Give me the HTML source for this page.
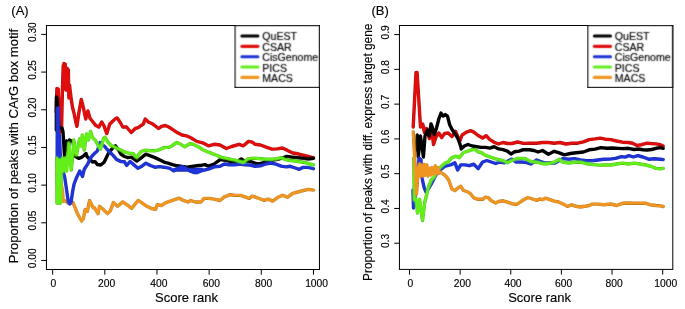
<!DOCTYPE html>
<html><head><meta charset="utf-8"><style>
html,body{margin:0;padding:0;background:#fff;}
svg{display:block;}
text{font-family:"Liberation Sans",sans-serif;fill:#000;stroke:#000;stroke-width:0.15px;}
</style></head><body>
<svg width="685" height="309" viewBox="0 0 685 309">
<defs><filter id="bl" filterUnits="userSpaceOnUse" x="0" y="0" width="685" height="309" color-interpolation-filters="sRGB"><feConvolveMatrix order="3" kernelMatrix="1 2 1 2 12 2 1 2 1" divisor="24" edgeMode="duplicate" preserveAlpha="true"/></filter></defs>
<rect width="685" height="309" fill="#fff"/>
<g filter="url(#bl)">
<text x="11.3" y="14.8" font-size="13">(A)</text>
<text x="371.5" y="14.8" font-size="13">(B)</text>
<clipPath id="cl"><rect x="46.45" y="25.55" width="273.0" height="243.95"/></clipPath>
<g clip-path="url(#cl)" fill="none" stroke-width="3.4" stroke-linejoin="round" stroke-linecap="round">
<polyline stroke="#f09620" points="57.5,150.0 58.8,165.0 61.0,182.0 62.6,192.0 63.2,201.5 65.5,201.0 68.5,203.0 73.0,202.6 75.4,208.4 77.1,213.0 81.6,221.0 83.4,218.5 85.1,209.6 87.3,211.4 89.6,200.7 93.2,207.8 94.4,207.7 98.0,213.6 99.5,206.3 103.1,209.2 107.5,213.6 110.4,210.7 113.4,202.6 117.7,206.3 122.8,201.9 128.0,205.5 131.6,208.5 134.5,204.8 138.2,200.4 142.6,203.4 146.9,206.3 151.3,208.5 155.7,209.2 157.2,204.8 161.5,205.5 165.9,202.6 170.3,201.2 174.7,199.7 179.1,198.2 183.4,200.4 187.9,202.0 190.8,200.5 195.2,202.0 201.1,202.0 204.0,198.4 208.4,198.4 214.2,199.1 220.0,200.5 224.4,196.9 230.3,194.7 234.6,195.4 240.5,195.4 244.9,196.9 249.2,198.4 252.2,196.2 253.9,196.6 259.1,198.5 264.2,200.4 268.1,199.1 272.7,201.1 277.2,197.8 282.4,195.3 287.6,197.2 292.7,193.3 297.9,192.0 303.1,190.7 308.3,189.4 313.5,190.1"/>
<polyline stroke="#e00d0d" points="56.2,112.0 56.9,88.5 58.3,89.0 59.3,110.0 60.5,132.0 61.5,130.0 62.3,95.0 63.2,66.0 64.0,63.5 65.2,64.0 65.9,90.0 66.6,74.0 67.3,68.5 68.3,70.0 68.9,98.0 69.5,85.0 70.3,92.0 71.3,99.5 72.6,108.0 74.0,113.0 75.2,119.0 76.9,126.3 79.0,112.0 81.3,99.4 83.5,108.1 85.7,119.0 87.9,111.0 90.0,118.3 93.0,122.0 95.9,125.6 98.8,127.1 101.7,122.0 103.9,125.6 106.8,133.6 109.7,124.2 112.6,121.2 116.0,118.3 117.2,118.0 119.9,121.9 122.8,127.0 126.5,127.0 131.2,132.5 135.3,128.5 138.2,127.7 141.1,125.5 143.3,124.1 145.2,119.0 148.4,121.9 152.8,124.1 158.6,128.5 161.5,126.3 165.2,125.5 168.8,127.0 173.2,129.9 177.6,132.8 182.0,135.0 186.4,135.8 190.8,137.7 196.7,141.4 202.5,142.8 208.4,145.8 214.2,144.3 220.0,145.0 226.3,148.5 231.7,146.5 239.0,144.3 243.4,145.8 248.5,141.4 252.2,142.1 255.2,144.3 260.4,145.0 265.5,146.9 272.0,149.1 277.2,148.9 282.4,148.0 287.6,150.4 292.7,153.0 297.9,153.8 303.1,155.2 308.3,156.5 313.5,157.8"/>
<polyline stroke="#000000" points="56.3,130.0 56.4,97.0 57.0,98.0 57.8,110.0 59.0,128.0 62.0,128.0 63.0,132.0 64.5,156.0 66.5,141.0 68.0,150.0 69.5,140.0 71.7,141.0 73.0,142.0 75.4,156.6 78.9,158.4 81.4,157.4 84.0,155.5 86.0,153.5 87.2,156.8 92.5,162.0 95.0,161.6 97.3,164.5 100.7,165.0 104.1,162.2 106.3,157.7 108.6,153.1 111.9,148.9 115.4,145.8 119.2,151.1 121.1,154.3 124.5,156.5 127.9,157.7 131.3,157.1 133.4,158.7 136.8,161.0 140.2,158.7 145.9,154.2 150.4,155.9 154.9,157.6 159.5,159.8 164.0,162.1 168.7,163.4 172.4,164.6 177.3,165.8 182.2,166.5 187.2,167.1 192.1,166.5 197.0,165.8 201.9,165.2 205.0,164.6 208.4,166.2 214.2,164.0 220.0,159.6 225.9,160.3 231.7,161.8 237.6,161.1 241.2,158.9 244.9,161.1 250.7,161.5 255.0,163.2 258.4,163.8 261.8,163.2 266.3,161.5 272.0,160.4 277.7,159.3 282.2,158.1 286.7,156.4 291.3,157.0 297.9,157.7 303.1,158.3 308.3,159.0 313.5,158.3"/>
<polyline stroke="#1f34d8" points="57.2,160.0 57.3,108.0 58.2,108.0 58.3,158.0 59.5,135.0 60.5,161.0 64.8,178.0 68.3,202.0 69.8,204.0 71.0,202.5 72.7,191.0 74.1,184.0 75.8,179.5 77.1,176.4 79.8,171.0 82.5,176.4 84.3,169.2 87.8,163.9 90.0,159.0 92.5,155.5 95.0,153.0 97.3,151.0 100.1,142.6 102.0,144.5 104.6,146.3 106.3,148.6 109.7,152.0 113.1,155.4 116.5,159.4 121.1,161.6 124.5,161.8 126.7,165.4 130.1,161.5 133.4,164.4 137.9,168.3 141.3,166.6 145.9,163.2 150.4,165.5 154.9,167.2 159.5,166.6 164.0,167.2 169.9,168.3 173.6,170.8 177.3,169.5 181.0,167.1 184.7,168.3 189.6,170.8 194.5,172.6 198.2,171.4 201.9,169.5 173.2,170.0 177.6,168.6 182.0,166.4 186.4,168.6 190.8,171.3 196.7,172.7 202.5,170.5 208.4,169.1 214.2,166.9 220.0,166.2 224.4,164.0 228.8,164.7 234.6,164.7 240.5,164.0 244.9,164.7 250.0,165.0 255.2,166.3 260.4,165.8 265.5,164.0 270.7,163.0 275.9,164.2 281.1,166.1 286.3,166.9 290.2,166.3 295.3,168.0 299.2,169.3 303.1,167.4 308.3,167.4 313.5,168.7"/>
<polyline stroke="#64ee1a" points="56.8,158.0 57.0,203.0 58.3,203.0 58.5,160.0 59.5,160.0 60.0,200.0 60.5,203.0 61.2,170.0 62.5,158.0 63.8,171.0 65.2,158.0 66.6,171.0 67.8,157.0 68.8,143.0 70.2,163.0 71.2,170.0 72.3,160.0 73.8,140.0 76.5,155.0 79.5,139.0 81.0,146.0 82.3,135.0 84.2,150.0 86.5,134.0 88.5,140.0 90.5,131.5 92.5,137.5 95.5,140.5 98.4,146.0 100.5,149.0 102.7,142.0 103.5,138.4 105.2,137.3 107.5,141.8 110.9,145.2 115.4,147.5 119.9,149.7 124.5,152.0 129.0,153.1 133.4,153.8 136.8,157.6 138.5,154.7 141.3,151.3 145.9,150.2 150.4,150.8 154.9,150.8 159.5,149.6 164.0,147.6 168.7,147.4 172.4,145.5 176.7,142.5 181.0,144.3 184.7,146.8 189.6,143.7 193.3,144.3 198.2,146.8 202.5,149.5 208.4,152.2 214.2,154.3 221.5,157.4 228.8,158.9 236.1,160.3 243.4,162.5 247.8,158.9 253.6,158.1 260.7,158.7 266.3,159.3 272.0,159.3 277.7,158.7 281.0,157.6 284.5,159.3 289.0,160.4 295.0,161.0 303.1,162.2 308.3,163.5 313.5,164.8"/>
</g>
<rect x="235.0" y="25.5" width="84.5" height="62.0" fill="#fff" stroke="#000" stroke-width="1"/>
<line x1="241.9" y1="36" x2="257.9" y2="36" stroke="#000000" stroke-width="3.1" stroke-linecap="round"/>
<text x="262.25" y="40.4" font-size="10.6">QuEST</text>
<line x1="241.9" y1="46.35" x2="257.9" y2="46.35" stroke="#e00d0d" stroke-width="3.1" stroke-linecap="round"/>
<text x="262.25" y="50.8" font-size="10.6">CSAR</text>
<line x1="241.9" y1="56.7" x2="257.9" y2="56.7" stroke="#1f34d8" stroke-width="3.1" stroke-linecap="round"/>
<text x="262.25" y="61.1" font-size="10.6">CisGenome</text>
<line x1="241.9" y1="67.05" x2="257.9" y2="67.05" stroke="#64ee1a" stroke-width="3.1" stroke-linecap="round"/>
<text x="262.25" y="71.5" font-size="10.6">PICS</text>
<line x1="241.9" y1="77.4" x2="257.9" y2="77.4" stroke="#f09620" stroke-width="3.1" stroke-linecap="round"/>
<text x="262.25" y="81.8" font-size="10.6">MACS</text>
<rect x="46.45" y="25.55" width="273.0" height="243.95" fill="none" stroke="#000" stroke-width="1"/>
<line x1="41.25" y1="34.4" x2="46.45" y2="34.4" stroke="#000" stroke-width="1"/>
<line x1="41.25" y1="72.08" x2="46.45" y2="72.08" stroke="#000" stroke-width="1"/>
<line x1="41.25" y1="109.75999999999999" x2="46.45" y2="109.75999999999999" stroke="#000" stroke-width="1"/>
<line x1="41.25" y1="147.44" x2="46.45" y2="147.44" stroke="#000" stroke-width="1"/>
<line x1="41.25" y1="185.12" x2="46.45" y2="185.12" stroke="#000" stroke-width="1"/>
<line x1="41.25" y1="222.8" x2="46.45" y2="222.8" stroke="#000" stroke-width="1"/>
<line x1="41.25" y1="260.47999999999996" x2="46.45" y2="260.47999999999996" stroke="#000" stroke-width="1"/>
<line x1="52.65" y1="269.5" x2="52.65" y2="274.7" stroke="#000" stroke-width="1"/>
<line x1="104.81" y1="269.5" x2="104.81" y2="274.7" stroke="#000" stroke-width="1"/>
<line x1="156.97" y1="269.5" x2="156.97" y2="274.7" stroke="#000" stroke-width="1"/>
<line x1="209.13" y1="269.5" x2="209.13" y2="274.7" stroke="#000" stroke-width="1"/>
<line x1="261.28999999999996" y1="269.5" x2="261.28999999999996" y2="274.7" stroke="#000" stroke-width="1"/>
<line x1="313.44999999999993" y1="269.5" x2="313.44999999999993" y2="274.7" stroke="#000" stroke-width="1"/>
<text transform="translate(35.7,32.2) rotate(-90)" text-anchor="middle" font-size="10.2">0.30</text>
<text transform="translate(35.7,69.9) rotate(-90)" text-anchor="middle" font-size="10.2">0.25</text>
<text transform="translate(35.7,107.6) rotate(-90)" text-anchor="middle" font-size="10.2">0.20</text>
<text transform="translate(35.7,145.2) rotate(-90)" text-anchor="middle" font-size="10.2">0.15</text>
<text transform="translate(35.7,182.9) rotate(-90)" text-anchor="middle" font-size="10.2">0.10</text>
<text transform="translate(35.7,220.6) rotate(-90)" text-anchor="middle" font-size="10.2">0.05</text>
<text transform="translate(35.7,258.3) rotate(-90)" text-anchor="middle" font-size="10.2">0.00</text>
<text x="53.3" y="286.9" text-anchor="middle" font-size="10.3">0</text>
<text x="106.6" y="286.9" text-anchor="middle" font-size="10.3">200</text>
<text x="158.9" y="286.9" text-anchor="middle" font-size="10.3">400</text>
<text x="211.4" y="286.9" text-anchor="middle" font-size="10.3">600</text>
<text x="263.6" y="286.9" text-anchor="middle" font-size="10.3">800</text>
<text x="316.6" y="286.9" text-anchor="middle" font-size="10.3">1000</text>
<clipPath id="cr"><rect x="399.45" y="25.5" width="273.34999999999997" height="243.89999999999998"/></clipPath>
<g clip-path="url(#cr)" fill="none" stroke-width="3.4" stroke-linejoin="round" stroke-linecap="round">
<polyline stroke="#e00d0d" points="413.2,127.0 416.0,72.5 417.1,72.5 420.5,127.0 422.8,124.0 424.4,132.5 426.5,128.5 429.4,138.5 432.0,132.0 433.5,144.5 436.0,137.0 438.8,133.0 441.7,137.5 444.6,133.5 448.2,133.0 451.9,136.5 455.5,131.4 457.7,136.5 459.9,140.9 462.1,135.0 466.5,132.1 470.9,130.7 473.8,132.1 478.2,135.5 482.6,138.0 486.2,135.8 489.9,139.6 494.2,142.3 498.6,144.0 503.0,142.5 507.4,143.5 511.8,143.5 517.6,142.0 523.4,143.4 530.0,143.2 536.7,143.2 542.5,142.5 548.4,142.5 554.2,143.2 560.0,142.5 565.9,144.0 571.7,143.2 577.6,143.2 583.4,141.8 589.2,139.6 595.1,138.9 600.2,138.1 605.3,139.2 610.8,139.6 616.6,141.0 622.5,142.2 628.3,142.5 632.7,143.2 637.0,145.4 641.4,144.7 647.2,143.2 651.6,143.6 655.9,143.9 660.3,144.7 663.2,146.1"/>
<polyline stroke="#000000" points="416.3,150.0 417.2,135.0 418.2,157.0 420.4,136.0 421.8,145.0 423.4,157.0 425.0,136.0 427.7,130.0 429.3,136.0 431.0,124.0 432.6,128.0 434.4,134.5 436.6,127.7 438.8,119.0 441.0,113.1 443.1,116.1 445.3,114.6 447.5,116.1 449.7,124.8 451.9,129.2 454.8,133.5 457.7,138.0 459.9,143.8 461.4,148.9 464.3,146.0 468.0,144.5 472.3,146.0 476.7,146.7 481.1,147.4 485.5,147.4 489.9,148.1 494.2,146.7 498.6,148.9 503.0,149.6 507.4,151.1 511.0,154.0 514.7,151.8 519.1,151.1 523.4,149.6 529.4,149.8 533.8,150.5 538.1,152.0 542.5,150.5 548.4,154.2 554.2,151.3 558.6,152.7 564.4,154.9 570.3,153.5 576.1,152.7 583.4,152.0 589.2,149.8 595.1,149.1 600.9,147.6 606.8,148.2 612.6,148.0 618.4,148.4 622.5,148.6 628.3,148.3 634.1,149.5 638.5,149.0 642.8,149.7 647.2,150.0 651.6,149.5 655.9,148.3 660.3,147.6 663.2,148.3"/>
<polyline stroke="#1f34d8" points="413.0,190.0 413.5,208.0 415.0,200.0 417.0,175.0 419.0,158.0 421.0,160.0 422.0,178.0 424.0,187.0 426.0,192.0 428.4,189.0 431.3,184.0 433.5,179.7 435.6,175.4 440.2,170.0 444.6,166.4 450.4,164.9 454.8,162.7 457.7,170.0 460.7,164.9 465.0,164.9 469.4,165.7 473.8,164.2 478.2,168.6 482.6,162.0 486.9,160.5 491.3,162.0 495.7,163.5 500.0,162.0 504.5,162.7 508.8,160.5 511.8,159.1 516.1,162.0 522.0,162.0 525.0,162.2 530.8,164.0 536.7,160.0 545.0,163.0 555.0,163.0 563.0,158.6 568.8,159.3 574.6,158.6 580.5,160.0 586.3,160.8 592.2,160.8 598.0,160.0 603.8,159.3 609.7,159.1 615.5,158.4 621.4,156.6 625.0,157.1 629.0,155.6 633.4,157.0 637.8,155.6 642.8,157.0 648.7,159.2 654.5,158.8 660.3,159.2 663.2,159.6"/>
<polyline stroke="#64ee1a" points="413.8,158.0 414.2,200.0 415.8,198.0 417.5,213.0 419.6,199.5 422.5,220.6 424.7,202.5 426.9,193.7 428.4,187.0 431.3,180.0 434.2,177.0 437.1,171.0 439.3,168.3 442.2,165.5 445.1,163.0 448.0,162.0 451.9,157.6 456.3,156.2 459.2,157.6 463.6,152.5 468.0,151.1 472.3,149.6 475.3,149.6 478.2,151.8 481.1,152.5 485.5,155.4 489.9,156.9 494.2,158.4 498.6,159.8 503.0,160.5 507.4,162.7 511.8,160.5 517.6,158.4 523.4,158.4 525.0,158.6 530.8,161.5 536.7,162.2 542.5,163.7 548.4,163.7 554.2,162.2 559.3,159.3 563.0,162.2 568.8,163.0 574.6,162.2 580.5,162.2 586.3,163.7 592.2,164.4 598.0,165.1 603.8,165.0 610.8,165.0 616.6,164.0 622.5,163.1 628.3,164.0 634.1,163.1 639.9,164.0 645.8,165.0 651.6,166.5 655.9,168.4 660.3,168.7 663.2,168.4"/>
<polyline stroke="#f09620" points="413.3,132.0 414.3,150.0 415.5,175.0 416.5,194.0 417.5,180.0 418.5,168.0 419.6,164.0 420.6,176.0 421.7,165.0 423.0,176.0 424.3,164.5 425.6,175.0 426.8,165.0 428.0,176.0 429.5,168.5 430.8,175.0 432.0,167.5 433.5,174.0 435.3,166.0 436.5,174.0 437.8,167.5 439.2,173.0 441.0,172.5 443.0,174.0 445.0,175.4 447.0,177.5 448.9,180.5 451.9,189.0 454.8,190.5 457.7,188.4 460.7,186.2 463.6,190.5 468.0,192.0 470.9,194.2 473.8,197.8 478.2,199.3 482.6,199.3 485.5,197.1 488.4,197.8 491.3,200.8 495.7,203.0 498.6,201.5 503.0,200.8 507.4,202.2 511.8,203.7 516.1,204.4 519.1,203.0 522.0,200.8 525.0,199.0 527.9,197.5 532.3,199.0 536.7,200.4 539.6,199.0 542.5,199.7 545.4,198.2 549.8,199.7 554.2,201.2 558.6,201.9 563.0,204.1 567.3,206.3 571.7,204.8 576.1,206.3 580.5,207.0 584.9,206.3 589.2,205.5 592.2,204.1 598.0,204.1 603.8,204.8 610.8,204.0 616.6,205.5 622.5,203.3 628.3,203.0 634.1,203.3 639.9,203.3 645.8,203.3 650.1,204.7 655.9,205.5 660.3,205.9 663.2,206.5"/>
</g>
<rect x="587.8" y="25.5" width="85.0" height="62.0" fill="#fff" stroke="#000" stroke-width="1"/>
<line x1="594.4" y1="36" x2="610.5" y2="36" stroke="#000000" stroke-width="3.1" stroke-linecap="round"/>
<text x="614.75" y="40.4" font-size="10.6">QuEST</text>
<line x1="594.4" y1="46.35" x2="610.5" y2="46.35" stroke="#e00d0d" stroke-width="3.1" stroke-linecap="round"/>
<text x="614.75" y="50.8" font-size="10.6">CSAR</text>
<line x1="594.4" y1="56.7" x2="610.5" y2="56.7" stroke="#1f34d8" stroke-width="3.1" stroke-linecap="round"/>
<text x="614.75" y="61.1" font-size="10.6">CisGenome</text>
<line x1="594.4" y1="67.05" x2="610.5" y2="67.05" stroke="#64ee1a" stroke-width="3.1" stroke-linecap="round"/>
<text x="614.75" y="71.5" font-size="10.6">PICS</text>
<line x1="594.4" y1="77.4" x2="610.5" y2="77.4" stroke="#f09620" stroke-width="3.1" stroke-linecap="round"/>
<text x="614.75" y="81.8" font-size="10.6">MACS</text>
<rect x="399.45" y="25.5" width="273.34999999999997" height="243.89999999999998" fill="none" stroke="#000" stroke-width="1"/>
<line x1="394.25" y1="34.6" x2="399.45" y2="34.6" stroke="#000" stroke-width="1"/>
<line x1="394.25" y1="69.37" x2="399.45" y2="69.37" stroke="#000" stroke-width="1"/>
<line x1="394.25" y1="104.14000000000001" x2="399.45" y2="104.14000000000001" stroke="#000" stroke-width="1"/>
<line x1="394.25" y1="138.91" x2="399.45" y2="138.91" stroke="#000" stroke-width="1"/>
<line x1="394.25" y1="173.68" x2="399.45" y2="173.68" stroke="#000" stroke-width="1"/>
<line x1="394.25" y1="208.45000000000002" x2="399.45" y2="208.45000000000002" stroke="#000" stroke-width="1"/>
<line x1="394.25" y1="243.22" x2="399.45" y2="243.22" stroke="#000" stroke-width="1"/>
<line x1="409.5" y1="269.4" x2="409.5" y2="274.59999999999997" stroke="#000" stroke-width="1"/>
<line x1="460.14" y1="269.4" x2="460.14" y2="274.59999999999997" stroke="#000" stroke-width="1"/>
<line x1="510.78" y1="269.4" x2="510.78" y2="274.59999999999997" stroke="#000" stroke-width="1"/>
<line x1="561.4200000000001" y1="269.4" x2="561.4200000000001" y2="274.59999999999997" stroke="#000" stroke-width="1"/>
<line x1="612.06" y1="269.4" x2="612.06" y2="274.59999999999997" stroke="#000" stroke-width="1"/>
<line x1="662.7" y1="269.4" x2="662.7" y2="274.59999999999997" stroke="#000" stroke-width="1"/>
<text transform="translate(388.5,32.4) rotate(-90)" text-anchor="middle" font-size="10.2">0.9</text>
<text transform="translate(388.5,67.2) rotate(-90)" text-anchor="middle" font-size="10.2">0.8</text>
<text transform="translate(388.5,101.9) rotate(-90)" text-anchor="middle" font-size="10.2">0.7</text>
<text transform="translate(388.5,136.7) rotate(-90)" text-anchor="middle" font-size="10.2">0.6</text>
<text transform="translate(388.5,171.5) rotate(-90)" text-anchor="middle" font-size="10.2">0.5</text>
<text transform="translate(388.5,206.3) rotate(-90)" text-anchor="middle" font-size="10.2">0.4</text>
<text transform="translate(388.5,241.0) rotate(-90)" text-anchor="middle" font-size="10.2">0.3</text>
<text x="410.4" y="286.9" text-anchor="middle" font-size="10.3">0</text>
<text x="462.3" y="286.9" text-anchor="middle" font-size="10.3">200</text>
<text x="513.0" y="286.9" text-anchor="middle" font-size="10.3">400</text>
<text x="563.6" y="286.9" text-anchor="middle" font-size="10.3">600</text>
<text x="614.2" y="286.9" text-anchor="middle" font-size="10.3">800</text>
<text x="665.7" y="286.9" text-anchor="middle" font-size="10.3">1000</text>
<text transform="translate(18,146) rotate(-90)" text-anchor="middle" font-size="13.15">Proportion of peaks with CArG box motif</text>
<text transform="translate(372.3,152.3) rotate(-90)" text-anchor="middle" font-size="11.85">Proportion of peaks with diff. express target gene</text>
<text x="186.5" y="301.8" text-anchor="middle" font-size="13">Score rank</text>
<text x="539.6" y="301.8" text-anchor="middle" font-size="13">Score rank</text>
</g>
</svg>
</body></html>
